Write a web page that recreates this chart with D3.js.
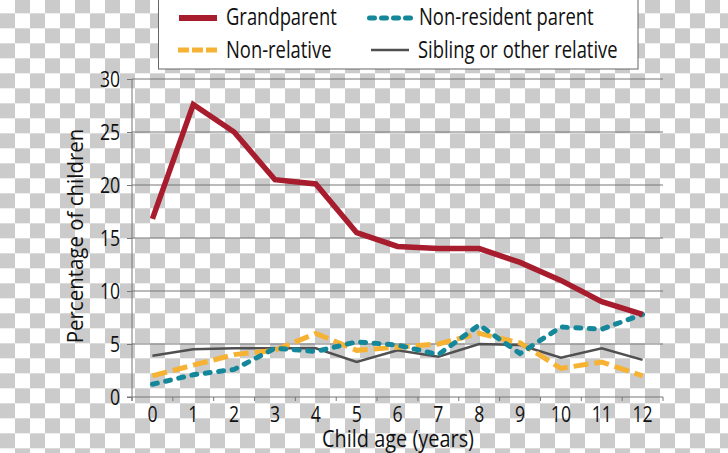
<!DOCTYPE html>
<html><head><meta charset="utf-8">
<script src="https://cdn.jsdelivr.net/npm/d3@7"></script>
<style>body{margin:0;background:#fff;} svg{display:block;} text{font-family:"Open Sans","Noto Sans",sans-serif;fill:#111;}</style>
</head><body><script>
const ages = [0,1,2,3,4,5,6,7,8,9,10,11,12];
const grandparent = [16.8,27.6,25.0,20.5,20.1,15.5,14.2,14.0,14.0,12.7,11.0,9.0,7.8];
const nonResidentParent = [1.2,2.1,2.6,4.6,4.3,5.2,4.9,4.0,6.8,4.1,6.6,6.4,7.8];
const nonRelative = [2.0,3.0,4.0,4.4,6.0,4.4,4.7,5.0,6.0,5.1,2.7,3.3,2.0];
const sibling = [3.9,4.5,4.6,4.6,4.6,3.3,4.4,3.8,5.0,4.9,3.7,4.6,3.5];
const yTicks = [0,5,10,15,20,25,30];
const seriesNames = ["Grandparent","Non-resident parent","Non-relative","Sibling or other relative"];

const W=728,H=453;
const FONT = '"Open Sans","Noto Sans",sans-serif';
const svg = d3.select("body").append("svg").attr("width",W).attr("height",H);
const defs = svg.append("defs");
const pat = defs.append("pattern").attr("id","chk").attr("patternUnits","userSpaceOnUse")
  .attr("width",30).attr("height",30).attr("x",0).attr("y",-1.7);
pat.append("rect").attr("width",30).attr("height",30).attr("fill","#fff");
pat.append("rect").attr("x",15).attr("y",0).attr("width",15).attr("height",15).attr("fill","#cbcbcb");
pat.append("rect").attr("x",0).attr("y",15).attr("width",15).attr("height",15).attr("fill","#cbcbcb");
svg.append("rect").attr("width",W).attr("height",H).attr("fill","url(#chk)");

const x = d3.scaleBand().domain(ages).range([132,663]);
const y = d3.scaleLinear().domain([0,30]).range([397,79]);
const cx = a => x(a)+x.bandwidth()/2;
const axisColor = "#777";
const SX = 0.8;

// gridlines
svg.append("g").selectAll("line").data(yTicks.filter(d=>d>0)).join("line")
  .attr("x1",132).attr("x2",663).attr("y1",d=>y(d)).attr("y2",d=>y(d))
  .attr("stroke",axisColor).attr("stroke-width",1);

// y axis
const gy = svg.append("g").attr("transform","translate(132,0)")
  .call(d3.axisLeft(y).tickValues(yTicks).tickSize(5).tickPadding(7));
gy.select(".domain").remove();
gy.selectAll(".tick line").attr("stroke",axisColor);
gy.selectAll(".tick text").attr("font-size",22).attr("fill","#111")
  .attr("x",-12/SX).attr("transform",`scale(${SX},1)`)
  .style("font-family",FONT);
svg.append("line").attr("x1",132).attr("x2",132).attr("y1",y(30)).attr("y2",401).attr("stroke",axisColor);

// x axis
svg.append("line").attr("x1",127).attr("x2",663).attr("y1",y(0)).attr("y2",y(0)).attr("stroke",axisColor);
const bounds = ages.map(a=>x(a)).concat([x.range()[1]]);
svg.append("g").selectAll("line").data(bounds).join("line")
  .attr("x1",d=>d).attr("x2",d=>d).attr("y1",y(0)).attr("y2",y(0)+4).attr("stroke",axisColor);
const gx = svg.append("g").attr("transform",`translate(0,${y(0)})`)
  .call(d3.axisBottom(x).tickSize(0).tickPadding(9));
gx.select(".domain").remove();
gx.selectAll(".tick text").attr("font-size",22).attr("fill","#111")
  .attr("transform",`scale(${SX},1)`)
  .style("font-family",FONT);

// axis titles
svg.append("text").attr("transform","translate(398,447) scale(0.83,1)").attr("text-anchor","middle")
  .attr("font-size",24).text("Child age (years)");
svg.append("text").attr("transform","translate(83,236) rotate(-90) scale(0.93,1)").attr("text-anchor","middle")
  .attr("font-size",22).text("Percentage of children");

// lines
const line = d3.line().x((d,i)=>cx(ages[i])).y(d=>y(d));
const styles = [
  {data:sibling, color:"#505050", w:2.5, dash:null, cap:"butt"},
  {data:nonRelative, color:"#f6b233", w:5, dash:"15,6", cap:"butt"},
  {data:nonResidentParent, color:"#15879a", w:5, dash:"5,8.5", cap:"round"},
  {data:grandparent, color:"#a81d2e", w:5.5, dash:null, cap:"butt"}
];
svg.append("g").selectAll("path").data(styles).join("path")
  .attr("d",d=>line(d.data)).attr("fill","none").attr("stroke",d=>d.color)
  .attr("stroke-width",d=>d.w).attr("stroke-dasharray",d=>d.dash)
  .attr("stroke-linecap",d=>d.cap).attr("stroke-linejoin","miter");

// legend
const lg = svg.append("g");
lg.append("rect").attr("x",158.5).attr("y",-2).attr("width",479.5).attr("height",71)
  .attr("fill","#fff").attr("stroke","#666").attr("stroke-width",1);
const leg = [
  {name:seriesNames[0], x1:179, x2:217, y:18, color:"#a81d2e", w:6, dash:null, cap:"butt", tx:226, ty:25},
  {name:seriesNames[2], x1:178, x2:217, y:50, color:"#f6b233", w:5, dash:"11,3", cap:"butt", tx:226, ty:58},
  {name:seriesNames[1], x1:369.5, x2:412, y:18, color:"#15879a", w:5, dash:"5,7", cap:"round", tx:419, ty:25},
  {name:seriesNames[3], x1:371, x2:409, y:50, color:"#505050", w:2.5, dash:null, cap:"butt", tx:418, ty:58}
];
lg.selectAll("line").data(leg).join("line")
  .attr("x1",d=>d.x1).attr("x2",d=>d.x2).attr("y1",d=>d.y).attr("y2",d=>d.y)
  .attr("stroke",d=>d.color).attr("stroke-width",d=>d.w).attr("stroke-dasharray",d=>d.dash)
  .attr("stroke-linecap",d=>d.cap);
lg.selectAll("text").data(leg).join("text")
  .attr("transform",d=>`translate(${d.tx},${d.ty}) scale(${SX},1)`)
  .attr("font-size",23).text(d=>d.name);
</script></body></html>
